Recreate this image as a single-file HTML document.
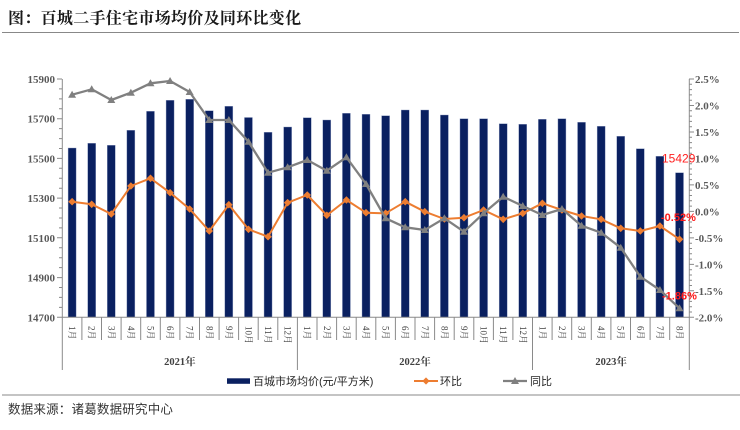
<!DOCTYPE html>
<html><head><meta charset="utf-8"><style>
html,body{margin:0;padding:0;background:#fff;}
svg{display:block;}
.ax{font-family:"Liberation Serif","Noto Serif CJK SC",serif;font-size:11px;font-weight:bold;fill:#595959;}
.xl{font-family:"Liberation Serif","Noto Serif CJK SC",serif;font-size:9px;fill:#404040;}
.yr{font-family:"Liberation Serif","Noto Serif CJK SC",serif;font-size:10.5px;font-weight:bold;fill:#404040;}
.lg{font-family:"Liberation Sans","Noto Sans CJK SC",sans-serif;font-size:11px;fill:#262626;}
</style></head><body>
<svg width="740" height="430" viewBox="0 0 740 430" xmlns="http://www.w3.org/2000/svg">
<defs>
<marker id="dia" markerUnits="userSpaceOnUse" markerWidth="10" markerHeight="10" refX="5" refY="5" viewBox="0 0 10 10" overflow="visible"><path d="M5,1.2 L8.8,5 L5,8.8 L1.2,5Z" fill="#ED7D31"/></marker>
<marker id="tri" markerUnits="userSpaceOnUse" markerWidth="10" markerHeight="10" refX="5" refY="5" viewBox="0 0 10 10" overflow="visible"><path d="M5,1 L9,8 L1,8Z" fill="#808080"/></marker>
</defs>
<rect width="740" height="430" fill="#fff"/>
<text x="8" y="23.5" font-family="'Noto Serif CJK SC','Liberation Serif',serif" font-weight="bold" font-size="16" letter-spacing="0.3" fill="#1a1a1a">图：百城二手住宅市场均价及同环比变化</text>
<line x1="2" y1="32.5" x2="739" y2="32.5" stroke="#888" stroke-width="1"/>

<!-- bars -->
<g fill="#0a2060" stroke="#8e9cc0" stroke-width="0.4">
<rect x="68.10" y="148.0" width="8" height="169.3"/>
<rect x="87.69" y="143.3" width="8" height="174.0"/>
<rect x="107.29" y="145.3" width="8" height="172.0"/>
<rect x="126.88" y="130.3" width="8" height="187.0"/>
<rect x="146.48" y="111.3" width="8" height="206.0"/>
<rect x="166.07" y="100.3" width="8" height="217.0"/>
<rect x="185.66" y="99.3" width="8" height="218.0"/>
<rect x="205.26" y="110.7" width="8" height="206.6"/>
<rect x="224.85" y="106.3" width="8" height="211.0"/>
<rect x="244.45" y="117.5" width="8" height="199.8"/>
<rect x="264.04" y="132.3" width="8" height="185.0"/>
<rect x="283.63" y="127.0" width="8" height="190.3"/>
<rect x="303.23" y="117.7" width="8" height="199.6"/>
<rect x="322.82" y="120.0" width="8" height="197.3"/>
<rect x="342.42" y="113.3" width="8" height="204.0"/>
<rect x="362.01" y="114.3" width="8" height="203.0"/>
<rect x="381.60" y="115.7" width="8" height="201.6"/>
<rect x="401.20" y="110.0" width="8" height="207.3"/>
<rect x="420.79" y="110.0" width="8" height="207.3"/>
<rect x="440.39" y="115.0" width="8" height="202.3"/>
<rect x="459.98" y="118.7" width="8" height="198.6"/>
<rect x="479.57" y="118.7" width="8" height="198.6"/>
<rect x="499.17" y="123.7" width="8" height="193.6"/>
<rect x="518.76" y="124.3" width="8" height="193.0"/>
<rect x="538.36" y="119.3" width="8" height="198.0"/>
<rect x="557.95" y="118.7" width="8" height="198.6"/>
<rect x="577.54" y="122.3" width="8" height="195.0"/>
<rect x="597.14" y="126.3" width="8" height="191.0"/>
<rect x="616.73" y="136.3" width="8" height="181.0"/>
<rect x="636.33" y="148.7" width="8" height="168.6"/>
<rect x="655.92" y="156.3" width="8" height="161.0"/>
<rect x="675.51" y="172.7" width="8" height="144.6"/>
</g>

<!-- axes -->
<g stroke="#8a8a8a" stroke-width="1" fill="none">
<line x1="62.3" y1="79" x2="62.3" y2="370"/>
<line x1="689.3" y1="79" x2="689.3" y2="370"/>
<line x1="62.3" y1="317.3" x2="689.3" y2="317.3"/>
<line x1="297.4" y1="317.3" x2="297.4" y2="370"/>
<line x1="532.5" y1="317.3" x2="532.5" y2="370"/>
<path d="M57,79H62M57,118.7H62M57,158.4H62M57,198.1H62M57,237.8H62M57,277.6H62M57,317.3H62"/>
<path d="M59,88.9H62M59,98.9H62M59,108.8H62M59,128.6H62M59,138.6H62M59,148.5H62M59,168.3H62M59,178.3H62M59,188.2H62M59,208H62M59,218H62M59,227.9H62M59,247.7H62M59,257.7H62M59,267.6H62M59,287.5H62M59,297.4H62M59,307.4H62"/>
<path d="M689,79H694M689,105.5H694M689,132H694M689,158.4H694M689,184.9H694M689,211.4H694M689,237.9H694M689,264.4H694M689,290.8H694M689,317.3H694"/>
<path d="M689,84.3H692M689,89.6H692M689,94.9H692M689,100.2H692M689,110.8H692M689,116.1H692M689,121.4H692M689,126.7H692M689,137.3H692M689,142.6H692M689,147.9H692M689,153.2H692M689,163.7H692M689,169H692M689,174.3H692M689,179.6H692M689,190.2H692M689,195.5H692M689,200.8H692M689,206.1H692M689,216.7H692M689,222H692M689,227.3H692M689,232.6H692M689,243.2H692M689,248.5H692M689,253.8H692M689,259.1H692M689,269.7H692M689,275H692M689,280.2H692M689,285.5H692M689,296.1H692M689,301.4H692M689,306.7H692M689,312H692"/>
<path d="M81.9,317.3V340M101.5,317.3V340M121.1,317.3V340M140.7,317.3V340M160.3,317.3V340M179.9,317.3V340M199.5,317.3V340M219.1,317.3V340M238.6,317.3V340M258.2,317.3V340M277.8,317.3V340M317,317.3V340M336.6,317.3V340M356.2,317.3V340M375.8,317.3V340M395.4,317.3V340M415,317.3V340M434.6,317.3V340M454.2,317.3V340M473.8,317.3V340M493.4,317.3V340M512.9,317.3V340M552.1,317.3V340M571.7,317.3V340M591.3,317.3V340M610.9,317.3V340M630.5,317.3V340M650.1,317.3V340M669.7,317.3V340"/>
</g>

<!-- left labels -->
<g class="ax" text-anchor="end">
<text x="55" y="83">15900</text>
<text x="55" y="122.7">15700</text>
<text x="55" y="162.4">15500</text>
<text x="55" y="202.1">15300</text>
<text x="55" y="241.8">15100</text>
<text x="55" y="281.6">14900</text>
<text x="55" y="321.3">14700</text>
</g>
<!-- right labels -->
<g class="ax">
<text x="695" y="83">2.5%</text>
<text x="695" y="109.5">2.0%</text>
<text x="695" y="136">1.5%</text>
<text x="695" y="162.4">1.0%</text>
<text x="695" y="188.9">0.5%</text>
<text x="695" y="215.4">0.0%</text>
<text x="695" y="241.9">-0.5%</text>
<text x="695" y="268.4">-1.0%</text>
<text x="695" y="294.8">-1.5%</text>
<text x="695" y="321.3">-2.0%</text>
</g>

<!-- x labels -->
<g class="xl" dominant-baseline="central">
<text transform="translate(72.10,326) rotate(90)">1月</text>
<text transform="translate(91.69,326) rotate(90)">2月</text>
<text transform="translate(111.29,326) rotate(90)">3月</text>
<text transform="translate(130.88,326) rotate(90)">4月</text>
<text transform="translate(150.48,326) rotate(90)">5月</text>
<text transform="translate(170.07,326) rotate(90)">6月</text>
<text transform="translate(189.66,326) rotate(90)">7月</text>
<text transform="translate(209.26,326) rotate(90)">8月</text>
<text transform="translate(228.85,326) rotate(90)">9月</text>
<text transform="translate(248.45,326) rotate(90)">10月</text>
<text transform="translate(268.04,326) rotate(90)">11月</text>
<text transform="translate(287.63,326) rotate(90)">12月</text>
<text transform="translate(307.23,326) rotate(90)">1月</text>
<text transform="translate(326.82,326) rotate(90)">2月</text>
<text transform="translate(346.42,326) rotate(90)">3月</text>
<text transform="translate(366.01,326) rotate(90)">4月</text>
<text transform="translate(385.60,326) rotate(90)">5月</text>
<text transform="translate(405.20,326) rotate(90)">6月</text>
<text transform="translate(424.79,326) rotate(90)">7月</text>
<text transform="translate(444.39,326) rotate(90)">8月</text>
<text transform="translate(463.98,326) rotate(90)">9月</text>
<text transform="translate(483.57,326) rotate(90)">10月</text>
<text transform="translate(503.17,326) rotate(90)">11月</text>
<text transform="translate(522.76,326) rotate(90)">12月</text>
<text transform="translate(542.36,326) rotate(90)">1月</text>
<text transform="translate(561.95,326) rotate(90)">2月</text>
<text transform="translate(581.54,326) rotate(90)">3月</text>
<text transform="translate(601.14,326) rotate(90)">4月</text>
<text transform="translate(620.73,326) rotate(90)">5月</text>
<text transform="translate(640.33,326) rotate(90)">6月</text>
<text transform="translate(659.92,326) rotate(90)">7月</text>
<text transform="translate(679.51,326) rotate(90)">8月</text>
</g>
<g class="yr" text-anchor="middle">
<text x="179.9" y="365">2021年</text>
<text x="415.0" y="365">2022年</text>
<text x="611.1" y="365">2023年</text>
</g>

<!-- 环比 -->
<polyline fill="none" stroke="#ED7D31" stroke-width="2" stroke-linejoin="round" marker-start="url(#dia)" marker-mid="url(#dia)" marker-end="url(#dia)" points="72.10,201.7 91.69,204.3 111.29,214.0 130.88,186.0 150.48,178.3 170.07,192.7 189.66,209.0 209.26,231.0 228.85,204.7 248.45,229.3 268.04,236.7 287.63,202.7 307.23,195.0 326.82,215.3 346.42,200.0 366.01,212.7 385.60,213.3 405.20,201.7 424.79,211.7 444.39,219.0 463.98,217.7 483.57,210.0 503.17,219.3 522.76,213.3 542.36,203.3 561.95,210.0 581.54,216.0 601.14,219.3 620.73,228.3 640.33,231.0 659.92,226.0 679.51,239.3"/>
<!-- 同比 -->
<polyline fill="none" stroke="#808080" stroke-width="2.3" stroke-linejoin="round" marker-start="url(#tri)" marker-mid="url(#tri)" marker-end="url(#tri)" points="72.10,94.7 91.69,89.3 111.29,100.0 130.88,92.7 150.48,83.3 170.07,81.0 189.66,92.0 209.26,120.0 228.85,120.0 248.45,141.7 268.04,172.7 287.63,167.3 307.23,160.0 326.82,170.7 346.42,157.3 366.01,184.0 385.60,218.3 405.20,227.3 424.79,230.0 444.39,218.3 463.98,231.7 483.57,213.3 503.17,196.7 522.76,206.0 542.36,215.0 561.95,209.0 581.54,225.7 601.14,232.7 620.73,247.7 640.33,276.7 659.92,290.0 679.51,308.3"/>

<!-- annotations -->
<line x1="679.3" y1="228" x2="679.3" y2="236" stroke="#888" stroke-width="0.8"/>
<text x="662" y="162.5" font-family="'Liberation Sans',sans-serif" font-size="12" fill="#ff2020">15429</text>
<text x="661" y="221" font-family="'Liberation Sans',sans-serif" font-size="11" font-weight="bold" fill="#ff1a1a">-0.52%</text>
<text x="662" y="299.5" font-family="'Liberation Sans',sans-serif" font-size="11" font-weight="bold" fill="#ff1a1a">-1.86%</text>

<!-- legend -->
<rect x="227" y="378.3" width="23" height="5.5" fill="#0a2060"/>
<text class="lg" x="253" y="385">百城市场均价(元/平方米)</text>
<line x1="414" y1="381" x2="438" y2="381" stroke="#ED7D31" stroke-width="2"/>
<path d="M426,377.4 L429.6,381 L426,384.6 L422.4,381Z" fill="#ED7D31"/>
<text class="lg" x="440" y="385">环比</text>
<line x1="503" y1="381" x2="527" y2="381" stroke="#808080" stroke-width="2.3"/>
<path d="M515,377 L519,384 L511,384Z" fill="#808080"/>
<text class="lg" x="530" y="385">同比</text>

<line x1="2" y1="395" x2="740" y2="395" stroke="#c4c4c4" stroke-width="2"/>
<text x="8" y="413.5" font-family="'Noto Sans CJK SC','Liberation Sans',sans-serif" font-size="12.5" letter-spacing="0.2" fill="#333">数据来源：诸葛数据研究中心</text>
</svg>
</body></html>
